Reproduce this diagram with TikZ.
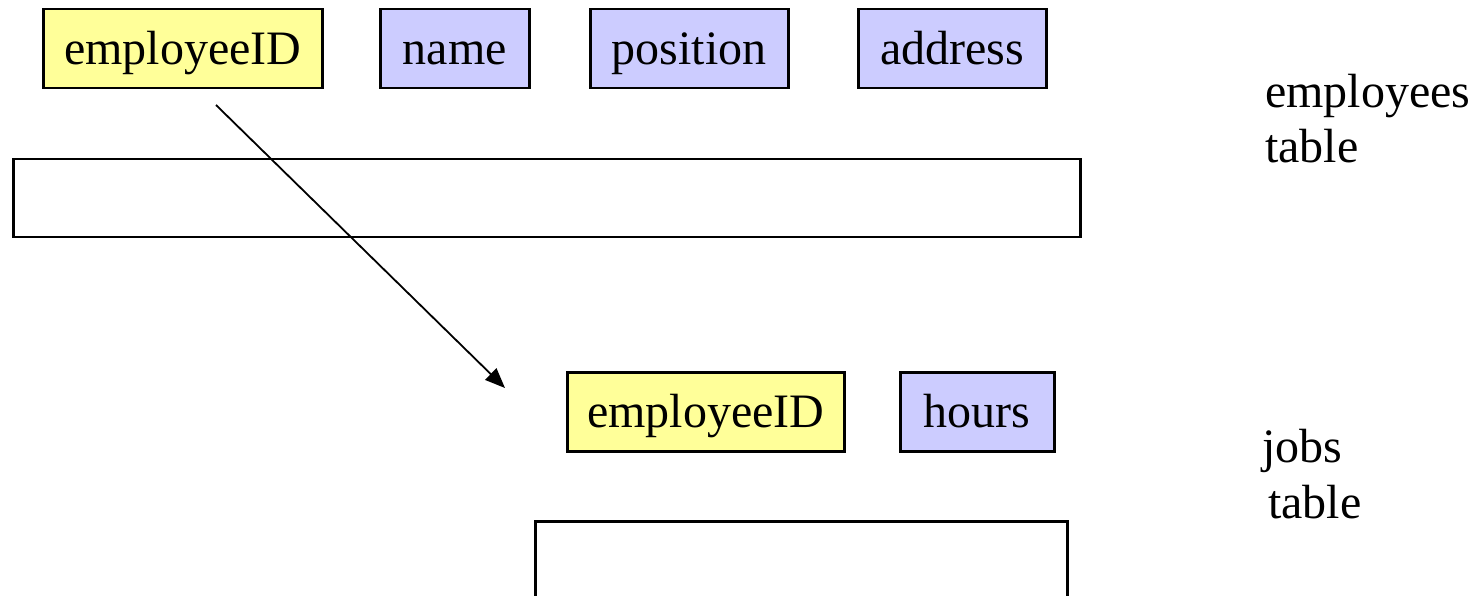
\documentclass[tikz,border=0pt]{standalone}
\usepackage{fontspec}
\setmainfont{Liberation Serif}
\usetikzlibrary{arrows.meta}
\definecolor{keyfill}{HTML}{FFFF99}
\definecolor{fieldfill}{HTML}{CCCCFF}
\tikzset{
  field/.style={draw=black, line width=2.5pt, inner sep=0pt, anchor=north west,
    font=\fontsize{48}{55}\selectfont, text height=32pt, text depth=0pt,
    minimum height=79pt},
  keyfield/.style={field, fill=keyfill},
  plainfield/.style={field, fill=fieldfill},
  tablebox/.style={draw=black, line width=2.5pt, inner sep=0pt, anchor=north west},
  caption/.style={inner sep=0pt, anchor=base west, font=\fontsize{48}{55}\selectfont},
  link/.style={line width=1.8pt, -{Triangle[length=20pt,width=16pt]}}
}
\begin{document}
\begin{tikzpicture}[x=1pt, y=-1pt]
  \useasboundingbox (0,0) rectangle (1473,596);
  \clip (0,0) rectangle (1473,596);

  % employees table: columns and row
  \node[keyfield, minimum width=279pt] (eid) at (42,8) {employeeID};
  \node[plainfield, minimum width=149pt] (ename) at (379,8) {name};
  \node[plainfield, minimum width=198pt] (epos) at (589,8) {position};
  \node[plainfield, minimum width=188pt] (eaddr) at (857,8) {address};
  \node[tablebox, minimum width=1067pt, minimum height=78pt] (emptab) at (12,158) {};

  \node[caption] (emplab1) at (1265,108) {employees};
  \node[caption] (emplab2) at (1265,163) {table};

  % jobs table: columns and row
  \node[keyfield, minimum width=277pt] (jid) at (566,371) {employeeID};
  \node[plainfield, minimum width=154pt] (jhours) at (899,371) {hours};
  \node[tablebox, minimum width=532pt, minimum height=120pt] (jobtab) at (534,520) {};

  \node[caption] (joblab1) at (1262,462) {jobs};
  \node[caption] (joblab2) at (1268,518) {table};

  % foreign key reference
  \coordinate (src) at (216,105);
  \coordinate (dst) at (505,388);
  \draw[link] (src) -- (dst);
\end{tikzpicture}
\end{document}
